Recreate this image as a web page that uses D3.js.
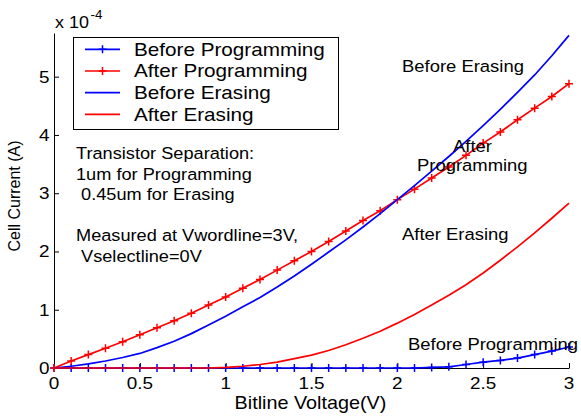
<!DOCTYPE html>
<html><head><meta charset="utf-8">
<script src="https://cdn.jsdelivr.net/npm/d3@7"></script>
<style>
html,body{margin:0;padding:0;background:#fff;}
svg text{font-family:"Liberation Sans",Arial,Helvetica,sans-serif;fill:#000;white-space:pre;}
</style></head>
<body><svg id="c" width="581" height="417"></svg>
<script>
const voltage = [0,0.1,0.2,0.3,0.4,0.5,0.6,0.7,0.8,0.9,1.0,1.1,1.2,1.3,1.4,1.5,1.6,1.7,1.8,1.9,2.0,2.1,2.2,2.3,2.4,2.5,2.6,2.7,2.8,2.9,3.0];
const beforeProgramming = [0,0,0,0,0,0,0,0,0,0,0,0,0,0,0,0,0,0,0,0,0,0,0.01,0.02,0.06,0.10,0.13,0.17,0.23,0.29,0.36];
const afterProgramming = [0,0.12,0.23,0.34,0.45,0.57,0.69,0.81,0.94,1.08,1.22,1.37,1.52,1.68,1.84,2.0,2.17,2.35,2.53,2.70,2.89,3.07,3.26,3.45,3.65,3.86,4.05,4.26,4.46,4.66,4.88];
const beforeErasing = [0,0.03,0.07,0.12,0.18,0.25,0.35,0.46,0.59,0.74,0.89,1.05,1.21,1.39,1.58,1.78,1.99,2.20,2.42,2.65,2.89,3.13,3.38,3.63,3.89,4.16,4.44,4.73,5.03,5.36,5.71];
const afterErasing = [0,0,0,0,0,0,0,0,0,0,0.01,0.03,0.06,0.10,0.16,0.22,0.30,0.40,0.51,0.63,0.77,0.92,1.08,1.25,1.43,1.63,1.85,2.08,2.32,2.57,2.83];
const xTicks = [0,0.5,1,1.5,2,2.5,3];
const yTicks = [0,1,2,3,4,5];
const seriesNames = ["Before Programming","After Programming","Before Erasing","After Erasing"];
const seriesColors = ["#0000ff","#ff0000","#0000ff","#ff0000"];
const seriesMarkers = [true,true,false,false];
const seriesValues = [beforeProgramming, afterProgramming, beforeErasing, afterErasing];
const noteLines = ["Transistor Separation:","1um for Programming"," 0.45um for Erasing","","Measured at Vwordline=3V,"," Vselectline=0V"];

const svg = d3.select("#c");
const x = d3.scaleLinear().domain([0,3]).range([54,569]);
const y = d3.scaleLinear().domain([0,5.75]).range([368,33]);

function txt(px, py, s, size, sx, anchor){
  return svg.append("text")
    .attr("transform", `translate(${px},${py}) scale(${sx},1)`)
    .attr("text-anchor", anchor || "start")
    .style("font-size", size+"px")
    .text(s);
}

// axes
const xa = svg.append("g").attr("transform","translate(0,368)")
  .call(d3.axisBottom(x).tickValues(xTicks).tickSizeInner(-5).tickSizeOuter(0).tickFormat(d3.format("")));
const ya = svg.append("g").attr("transform","translate(54,0)")
  .call(d3.axisLeft(y).tickValues(yTicks).tickSizeInner(-5).tickSizeOuter(0).tickFormat(d3.format("d")));
[xa,ya].forEach(a=>{
  a.select(".domain").attr("stroke","#000").attr("stroke-width",1);
  a.selectAll(".tick line").attr("stroke","#000");
  a.selectAll(".tick text").remove();
});
xTicks.forEach(t=> txt(x(t), 388.5, String(t), 16, 1.18, "middle"));
yTicks.forEach(t=> txt(49.5, y(t)+6, String(t), 16, 1.18, "end"));

// lines
const line = d3.line().x((d,i)=>x(voltage[i])).y(d=>y(d));
seriesValues.forEach((vals,k)=>{
  svg.append("path").datum(vals).attr("d", line)
    .attr("fill","none").attr("stroke", seriesColors[k]).attr("stroke-width",1.7).attr("stroke-linejoin","round");
  if(seriesMarkers[k]){
    svg.append("g").selectAll("path").data(vals).join("path")
      .attr("d",(d,i)=>{const cx=x(voltage[i]), cy=y(d); return `M${cx-4},${cy}H${cx+4}M${cx},${cy-4}V${cy+4}`;})
      .attr("stroke", seriesColors[k]).attr("stroke-width",1.5).attr("fill","none");
  }
});

// legend
svg.append("rect").attr("x",73.5).attr("y",37.5).attr("width",265).attr("height",92)
  .attr("fill","#fff").attr("stroke","#000").attr("stroke-width",1);
seriesNames.forEach((n,k)=>{
  const ly = 49.3 + k*21.7;
  svg.append("line").attr("x1",85).attr("x2",120).attr("y1",ly).attr("y2",ly)
    .attr("stroke",seriesColors[k]).attr("stroke-width",1.7);
  if(seriesMarkers[k]){
    svg.append("path").attr("d",`M98.5,${ly}H106.5M102.5,${ly-4}V${ly+4}`)
      .attr("stroke",seriesColors[k]).attr("stroke-width",1.5);
  }
  txt(134, ly+6.4, n, 18, 1.15);
});

// exponent label
txt(55, 28, "x 10", 16, 1.12);
txt(90.5, 19, "-4", 12, 1.12);

// axis labels
txt(310.5, 408.5, "Bitline Voltage(V)", 18, 1.1, "middle");
svg.append("text").attr("transform","translate(20,196) scale(1.07,1) rotate(-90)")
  .attr("text-anchor","middle").style("font-size","16px").text("Cell Current (A)");

// notes
noteLines.forEach((s,i)=>{ if(s) txt(76, 159.3 + i*20.5, s, 17, 1.07); });

// curve labels
txt(402, 71.7, "Before Erasing", 17, 1.085);
txt(453, 151.7, "After", 17, 1.085);
txt(417, 171, "Programming", 17, 1.085);
txt(402, 240, "After Erasing", 17, 1.085);
txt(408, 350, "Before Programming", 17, 1.085);
</script></body></html>
